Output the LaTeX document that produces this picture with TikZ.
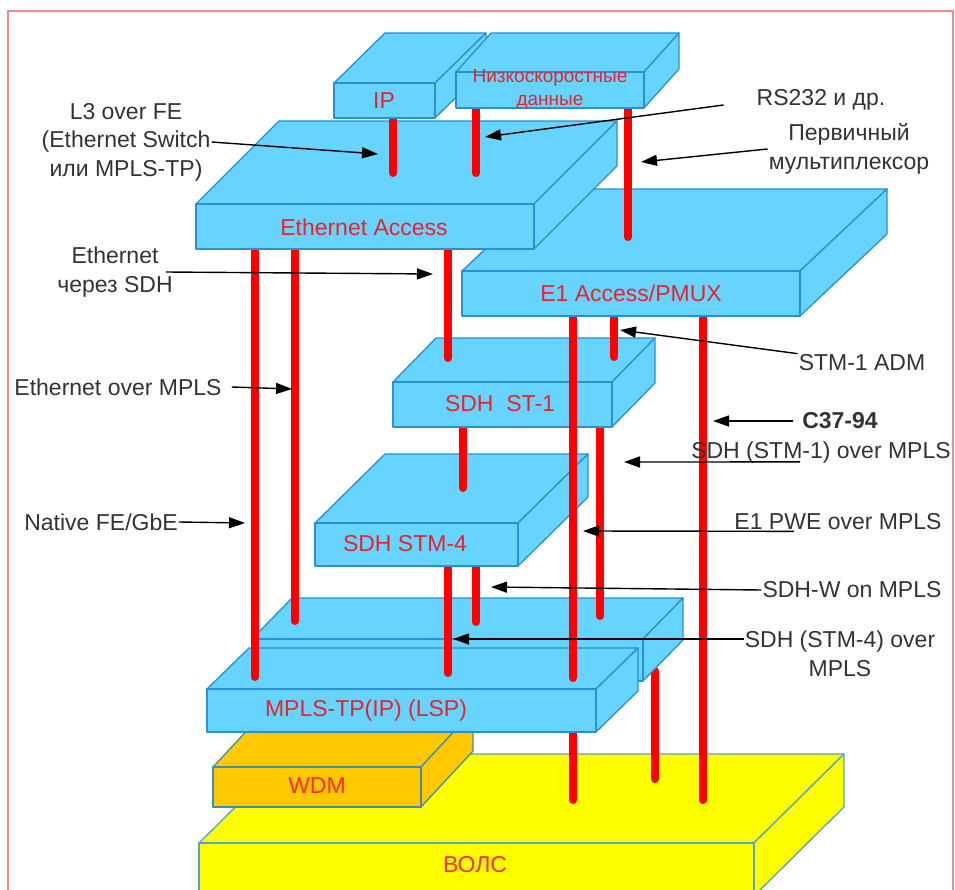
\documentclass[tikz,border=0pt]{standalone}
\usepackage{fontspec}
\setmainfont{Liberation Sans}
\usetikzlibrary{arrows.meta}
\definecolor{boxfill}{HTML}{66D4FF}
\definecolor{boxline}{HTML}{2A8FD4}
\definecolor{wdmfill}{HTML}{FFC800}
\definecolor{wdmline}{HTML}{3F8FA8}
\definecolor{fibrefill}{HTML}{FFFF00}
\definecolor{fibreline}{HTML}{55A5C0}
\definecolor{barred}{HTML}{FF0000}
\definecolor{lblred}{HTML}{E8232B}
\definecolor{lblorange}{HTML}{FF2A00}
\definecolor{notegray}{HTML}{333333}
\definecolor{framered}{HTML}{EE8C8C}

\begin{document}
\begin{tikzpicture}[x=1pt, y=-1pt,
  box/.style={fill=boxfill, draw=boxline, line width=1.3pt, line join=round},
  wdm/.style={fill=wdmfill, draw=wdmline, line width=1.3pt, line join=round},
  fibre/.style={fill=fibrefill, draw=fibreline, line width=1.3pt, line join=round},
  bar/.style={draw=barred, line width=8pt, line cap=round},
  arr/.style={draw=black, line width=1.4pt, -{Triangle[length=16pt, width=11pt]}},
  note/.style={font=\fontsize{23}{28.5}\selectfont, text=notegray, inner sep=1pt, align=center},
  lbl/.style={font=\fontsize{23}{28}\selectfont, text=lblred, inner sep=0pt, align=center}]
  \clip (0,0) rectangle (955,890);
  \fill[white] (0,0) rectangle (955,890);

  % Outer frame
  \draw[framered, line width=2pt] (8,920) -- (8,11) -- (953,11) -- (953,920);

  % VOLS (fibre) layer
  \filldraw[fibre] (199,843) -- ++(90,-89) -- ++(555,0) -- ++(-90,89) -- cycle;
  \filldraw[fibre] (754,843) -- ++(90,-89) -- ++(0,53) -- ++(-90,89) -- cycle;
  \filldraw[fibre] (199,843) rectangle (754,896);
  \node[lbl, text=lblorange] (vols) at (475,865) {ВОЛС};

  % WDM layer
  \filldraw[wdm] (213,767) -- ++(52,-56) -- ++(208,0) -- ++(-52,56) -- cycle;
  \filldraw[wdm] (421,767) -- ++(52,-56) -- ++(0,40) -- ++(-52,56) -- cycle;
  \filldraw[wdm] (213,767) rectangle (421,807);
  \node[lbl, text=lblorange] (wdmlbl) at (317,786) {WDM};

  % Bars down to the fibre
  \draw[bar] (573,732) -- (573,800);
  \draw[bar] (655,671) -- (655,779);
  \draw[bar] (703,316) -- (703,800);

  % MPLS-TP layer (two slabs)
  \filldraw[box] (252,639) -- ++(40,-41) -- ++(391,0) -- ++(-40,41) -- cycle;
  \filldraw[box] (643,639) -- ++(40,-41) -- ++(0,42) -- ++(-40,41) -- cycle;
  \filldraw[box] (252,639) rectangle (643,681);
  \filldraw[box] (207,689) -- ++(42,-41) -- ++(389,0) -- ++(-42,41) -- cycle;
  \filldraw[box] (596,689) -- ++(42,-41) -- ++(0,43) -- ++(-42,41) -- cycle;
  \filldraw[box] (207,689) rectangle (596,732);
  \node[lbl] (mpls) at (366,711) {MPLS-TP(IP) (LSP)};

  % Bars onto MPLS-TP
  \draw[bar] (255,249) -- (255,677);
  \draw[bar] (295,249) -- (295,621);
  \draw[bar] (448,566) -- (448,673);
  \draw[bar] (476,566) -- (476,622);
  \draw[bar] (600,427) -- (600,616);

  % SDH STM-4
  \filldraw[box] (315,523) -- ++(70,-69) -- ++(203,0) -- ++(-70,69) -- cycle;
  \filldraw[box] (518,523) -- ++(70,-69) -- ++(0,43) -- ++(-70,69) -- cycle;
  \filldraw[box] (315,523) rectangle (518,566);
  \node[lbl] (stm4) at (405,544) {SDH STM-4};
  \draw[bar] (463,427) -- (463,488);

  % SDH ST-1
  \filldraw[box] (393,382) -- ++(43,-44) -- ++(219,0) -- ++(-43,44) -- cycle;
  \filldraw[box] (612,382) -- ++(43,-44) -- ++(0,45) -- ++(-43,44) -- cycle;
  \filldraw[box] (393,382) rectangle (612,427);
  \node[lbl] (st1) at (500,404) {SDH~~ST-1};

  % Bars from the access layers
  \draw[bar] (573,316) -- (573,678);
  \draw[bar] (448,249) -- (448,358);
  \draw[bar] (614,316) -- (614,357);

  % E1 Access/PMUX
  \filldraw[box] (462,271) -- ++(87,-82) -- ++(338,0) -- ++(-87,82) -- cycle;
  \filldraw[box] (800,271) -- ++(87,-82) -- ++(0,45) -- ++(-87,82) -- cycle;
  \filldraw[box] (462,271) rectangle (800,316);
  \node[lbl] (e1) at (631,293) {E1 Access/PMUX};
  \draw[bar] (628,108) -- (628,237);

  % Ethernet Access
  \filldraw[box] (196,204) -- ++(83,-83) -- ++(338,0) -- ++(-83,83) -- cycle;
  \filldraw[box] (534,204) -- ++(83,-83) -- ++(0,45) -- ++(-83,83) -- cycle;
  \filldraw[box] (196,204) rectangle (534,249);
  \node[lbl] (eth) at (364,227) {Ethernet Access};
  \draw[bar] (393,118) -- (393,173);
  \draw[bar] (476,108) -- (476,173);

  % IP and low-speed data
  \filldraw[box] (334,83) -- ++(51,-50) -- ++(101,0) -- ++(-51,50) -- cycle;
  \filldraw[box] (435,83) -- ++(51,-50) -- ++(0,35) -- ++(-51,50) -- cycle;
  \filldraw[box] (334,83) rectangle (435,118);
  \node[lbl] (ip) at (384,101) {IP};
  \filldraw[box] (456,72) -- ++(35,-39) -- ++(188,0) -- ++(-35,39) -- cycle;
  \filldraw[box] (644,72) -- ++(35,-39) -- ++(0,36) -- ++(-35,39) -- cycle;
  \filldraw[box] (456,72) rectangle (644,108);
  \node[lbl, font=\fontsize{19}{23}\selectfont] (lowdata) at (550,89) {Низкоскоростные\\данные};

  % Annotations
  \node[note] (l3) at (126,142) {L3 over FE\\(Ethernet Switch\\или MPLS-TP)};
  \node[note] (rs) at (821,100) {RS232 и др.};
  \node[note] (pmux) at (849,149) {Первичный\\мультиплексор};
  \node[note] (ethsdh) at (115,272) {Ethernet\\через SDH};
  \node[note] (eompls) at (118,387) {Ethernet over MPLS};
  \node[note] (native) at (101,522) {Native FE/GbE};
  \node[note] (adm) at (862,363) {STM-1 ADM};
  \node[note, font=\fontsize{23}{28.5}\selectfont\bfseries] (c37) at (840,421) {C37-94};
  \node[note] (sdh1) at (821,453) {SDH (STM-1) over MPLS};
  \node[note] (pwe) at (838,522) {E1 PWE over MPLS};
  \node[note] (sdhw) at (852,590) {SDH-W on MPLS};
  \node[note] (sdh4) at (840,654) {SDH (STM-4) over\\MPLS};

  % Arrow tips on the bars
  \coordinate (l3-tip) at (378,154);
  \coordinate (rs-tip) at (485,137);
  \coordinate (pmux-tip) at (641,162);
  \coordinate (ethsdh-tip) at (433,274);
  \coordinate (eompls-tip) at (292,389);
  \coordinate (native-tip) at (245,523);
  \coordinate (adm-tip) at (620,330);
  \coordinate (c37-tip) at (713,421);
  \coordinate (sdh1-tip) at (624,462);
  \coordinate (pwe-tip) at (583,531);
  \coordinate (sdhw-tip) at (491,587);
  \coordinate (sdh4-tip) at (453,639);

  % Arrows
  \draw[arr] (l3.east) -- (l3-tip);
  \draw[arr] ([xshift=-32pt, yshift=-5pt]rs.west) -- (rs-tip);
  \draw[arr] (pmux.west) -- (pmux-tip);
  \draw[arr] ([xshift=-8pt]ethsdh.east) -- (ethsdh-tip);
  \draw[arr] ([xshift=9pt]eompls.east) -- (eompls-tip);
  \draw[arr] (native.east) -- (native-tip);
  \draw[arr] (adm.north west) -- (adm-tip);
  \draw[arr] ([xshift=-8pt]c37.west) -- (c37-tip);
  \draw[arr] ([xshift=-21pt, yshift=3pt]sdh1.south) -- (sdh1-tip);
  \draw[arr] ([xshift=-44pt]pwe.south) -- (pwe-tip);
  \draw[arr] (sdhw.west) -- (sdhw-tip);
  \draw[arr] (sdh4.west |- sdh4-tip) -- (sdh4-tip);
\end{tikzpicture}
\end{document}
